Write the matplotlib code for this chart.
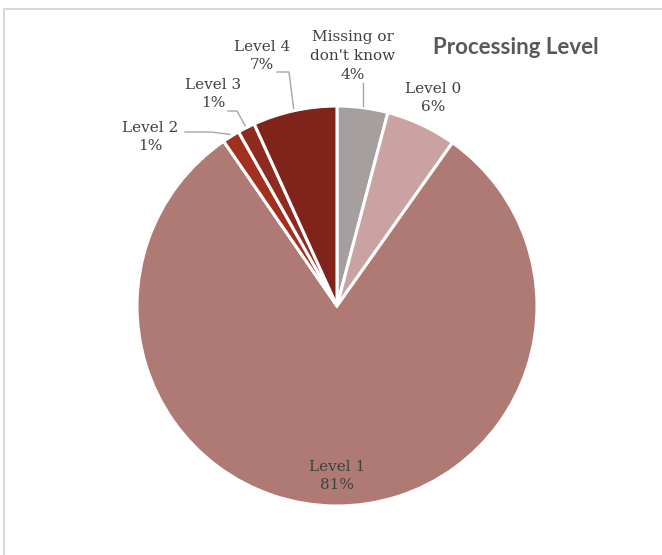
import numpy as np
import matplotlib
matplotlib.use("Agg")
import matplotlib.pyplot as plt

# Datos (lectura aproximada del gráfico)
categorias = ["Missing or\ndon't know", "Level 0", "Level 1", "Level 2", "Level 3", "Level 4"]
porcentajes = [4.1, 5.7, 80.7, 1.4, 1.4, 6.8]
colores = ["#A5A09F", "#C9A2A1", "#B07A74", "#A3301F", "#8E2A1F", "#80231A"]

titulo = "Processing Level"

# Geometría en píxeles (eje y hacia arriba)
W, H = 662, 555
centro = (337, H - 306)
radio = 200

# Posición de cada etiqueta (centro del texto)
pos_etiquetas = [(353, H - 56), (433, H - 98), (337, H - 476),
                 (150, H - 137), (213, H - 94), (262, H - 56)]
# Líneas guía: punto de inicio (px) y largo del tramo horizontal
guia_inicio = [(365, H - 83), None, None, (185, H - 132), (228, H - 111), (277, H - 72)]
guia_tramo = [0, 0, 0, 26, 9, 12]

fig = plt.figure(figsize=(W / 100, H / 100), dpi=100)
ax = fig.add_axes([0, 0, 1, 1])

wedges, _ = ax.pie(porcentajes, colors=colores, startangle=90, counterclock=False,
                   center=centro, radius=radio,
                   wedgeprops=dict(edgecolor="white", linewidth=2.2))
ax.set_xlim(0, W)
ax.set_ylim(0, H)
ax.set_aspect("equal")
ax.axis("off")

color_texto = "#404040"
color_guia = "#A6A6A6"
fuente = "DejaVu Serif"

for w, cat, p, (tx, ty), ini, tramo in zip(wedges, categorias, porcentajes,
                                            pos_etiquetas, guia_inicio, guia_tramo):
    ang = np.deg2rad((w.theta1 + w.theta2) / 2)
    ex = centro[0] + radio * np.cos(ang)
    ey = centro[1] + radio * np.sin(ang)
    ax.text(tx, ty, f"{cat}\n{p:.0f}%", ha="center", va="center", fontsize=11,
            family=fuente, color=color_texto, linespacing=1.42)
    if ini is None:
        continue
    x0, y0 = ini
    if tramo == 0:
        ax.plot([ex, ex], [ey + 2, y0], color=color_guia, lw=1)
    else:
        ax.plot([x0, x0 + tramo, ex - 1], [y0, y0, ey + 2], color=color_guia, lw=1)

# Título
fig.text(516 / W, 1 - 47 / H, titulo, ha="center", va="center", fontsize=16,
         family="Lato", weight="bold", color="#595959")

# Borde del área del gráfico
ax.plot([4, 4, W], [0, H - 9, H - 9], color="#D9D9D9", lw=1.5, clip_on=False)

fig.savefig("out.png", dpi=100)
